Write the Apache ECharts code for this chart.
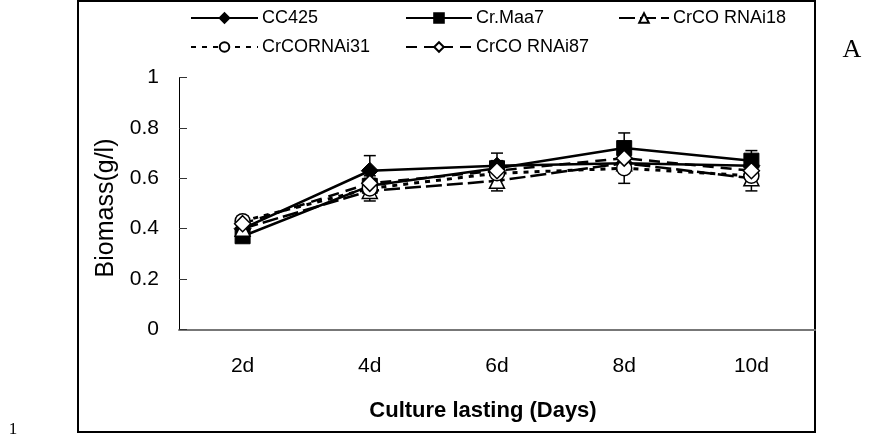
<!DOCTYPE html>
<html><head><meta charset="utf-8">
<script src="https://cdn.jsdelivr.net/npm/echarts@6/dist/echarts.min.js"></script>
<style>html,body{margin:0;padding:0;background:#fff}#c{width:875px;height:439px}</style>
</head><body><div id="c"></div>
<script>
// Biomass over culture time for five strains
const days = ['2d', '4d', '6d', '8d', '10d'];
const yTicks = [0, 0.2, 0.4, 0.6, 0.8, 1];

const cc425 = [0.40, 0.63, 0.65, 0.66, 0.65];
const crMaa7 = [0.37, 0.57, 0.64, 0.72, 0.67];
const rnai18 = [0.40, 0.55, 0.59, 0.66, 0.60];
const rnai31 = [0.43, 0.56, 0.62, 0.64, 0.61];
const rnai87 = [0.42, 0.58, 0.63, 0.68, 0.63];

const cc425Err = [0.02, 0.06, 0.05, 0.03, 0.03];
const crMaa7Err = [0.02, 0.03, 0.03, 0.06, 0.04];
const rnai18Err = [0.02, 0.04, 0.04, 0.03, 0.05];
const rnai31Err = [0.02, 0.03, 0.03, 0.06, 0.03];
const rnai87Err = [0.02, 0.03, 0.03, 0.03, 0.03];

const FONT = '"Liberation Sans", Arial, sans-serif';
const SERIF = '"Liberation Serif", "Times New Roman", serif';

function lineSeries(name, vals, symbol, size, filled, dash, width) {
  return {
    name, type: 'line', data: vals, symbol, symbolSize: size,
    lineStyle: { color: '#000', width: width, type: dash },
    itemStyle: filled ? { color: '#000', borderColor: '#000', borderWidth: 1 }
                      : { color: '#fff', borderColor: '#000', borderWidth: 1.5 },
    emphasis: { disabled: true }, animation: false, z: 3
  };
}

// vertical error bar with end caps
function errSeries(vals, errs) {
  return {
    type: 'custom', silent: true, animation: false, z: 2,
    data: vals.map((v, i) => [i, v - errs[i], v + errs[i]]),
    renderItem: (params, api) => {
      const lo = api.coord([api.value(0), api.value(1)]);
      const hi = api.coord([api.value(0), api.value(2)]);
      const w = 6, st = { stroke: '#000', lineWidth: 1.5 };
      return { type: 'group', children: [
        { type: 'line', shape: { x1: lo[0], y1: lo[1], x2: hi[0], y2: hi[1] }, style: st },
        { type: 'line', shape: { x1: lo[0] - w, y1: lo[1], x2: lo[0] + w, y2: lo[1] }, style: st },
        { type: 'line', shape: { x1: hi[0] - w, y1: hi[1], x2: hi[0] + w, y2: hi[1] }, style: st }
      ]};
    }
  };
}

function legendAt(name, left, top, w) {
  return {
    data: [name], left, top, itemWidth: w, itemHeight: 12, itemGap: 0, padding: 0,
    textStyle: { fontFamily: FONT, fontSize: 18, color: '#000', padding: [0, 0, 0, -1] },
    selectedMode: false
  };
}

const chart = echarts.init(document.getElementById('c'), null, { renderer: 'canvas' });
chart.setOption({
  backgroundColor: '#fff',
  animation: false,
  grid: { left: 179, right: 60, top: 77.5, bottom: 109.5 },
  legend: [
    legendAt('CC425', 190, 9, 67),
    legendAt('Cr.Maa7', 405, 9, 66),
    legendAt('CrCO RNAi18', 618, 9, 50),
    legendAt('CrCORNAi31', 190, 38, 67),
    legendAt('CrCO RNAi87', 405, 38, 66)
  ],
  xAxis: {
    type: 'category', data: days, boundaryGap: true,
    axisLine: { lineStyle: { color: '#777', width: 2 } },
    axisTick: { inside: true, length: 7, lineStyle: { color: '#333' } },
    axisLabel: { fontFamily: FONT, fontSize: 21, color: '#000', margin: 26 },
    splitLine: { show: false }
  },
  yAxis: {
    type: 'value', min: yTicks[0], max: yTicks[yTicks.length - 1], interval: 0.2,
    axisLine: { show: true, lineStyle: { color: '#000', width: 1 } },
    axisTick: { show: true, inside: true, length: 8, lineStyle: { color: '#333' } },
    axisLabel: { fontFamily: FONT, fontSize: 21, color: '#000', margin: 20,
      formatter: v => String(+v.toFixed(1)) },
    splitLine: { show: false }
  },
  series: [
    errSeries(cc425, cc425Err),
    errSeries(crMaa7, crMaa7Err),
    errSeries(rnai18, rnai18Err),
    errSeries(rnai31, rnai31Err),
    errSeries(rnai87, rnai87Err),
    lineSeries('CC425', cc425, 'diamond', 17, true, 'solid', 2.5),
    lineSeries('Cr.Maa7', crMaa7, 'rect', 15, true, 'solid', 2.5),
    lineSeries('CrCO RNAi18', rnai18, 'triangle', 15, false, [16, 5], 2.5),
    lineSeries('CrCORNAi31', rnai31, 'circle', 15, false, [5, 6], 3),
    lineSeries('CrCO RNAi87', rnai87, 'diamond', 16, false, [11, 7], 2.5)
  ],
  graphic: [
    { type: 'rect', shape: { x: 78, y: 1, width: 737, height: 431 },
      style: { fill: 'none', stroke: '#000', lineWidth: 2 }, silent: true },
    { type: 'text', x: 106, y: 208, rotation: Math.PI / 2,
      style: { text: 'Biomass(g/l)', fontFamily: FONT, fontSize: 25, fill: '#000',
        align: 'center', verticalAlign: 'middle' } },
    { type: 'text', x: 483, y: 411,
      style: { text: 'Culture lasting (Days)', fontFamily: FONT, fontSize: 22, fontWeight: 'bold',
        fill: '#000', align: 'center', verticalAlign: 'middle' } },
    { type: 'text', x: 852, y: 50,
      style: { text: 'A', fontFamily: SERIF, fontSize: 26, fill: '#000',
        align: 'center', verticalAlign: 'middle' } },
    { type: 'text', x: 13, y: 430,
      style: { text: '1', fontFamily: SERIF, fontSize: 17, fill: '#000',
        align: 'center', verticalAlign: 'middle' } }
  ]
});
</script>
</body></html>
